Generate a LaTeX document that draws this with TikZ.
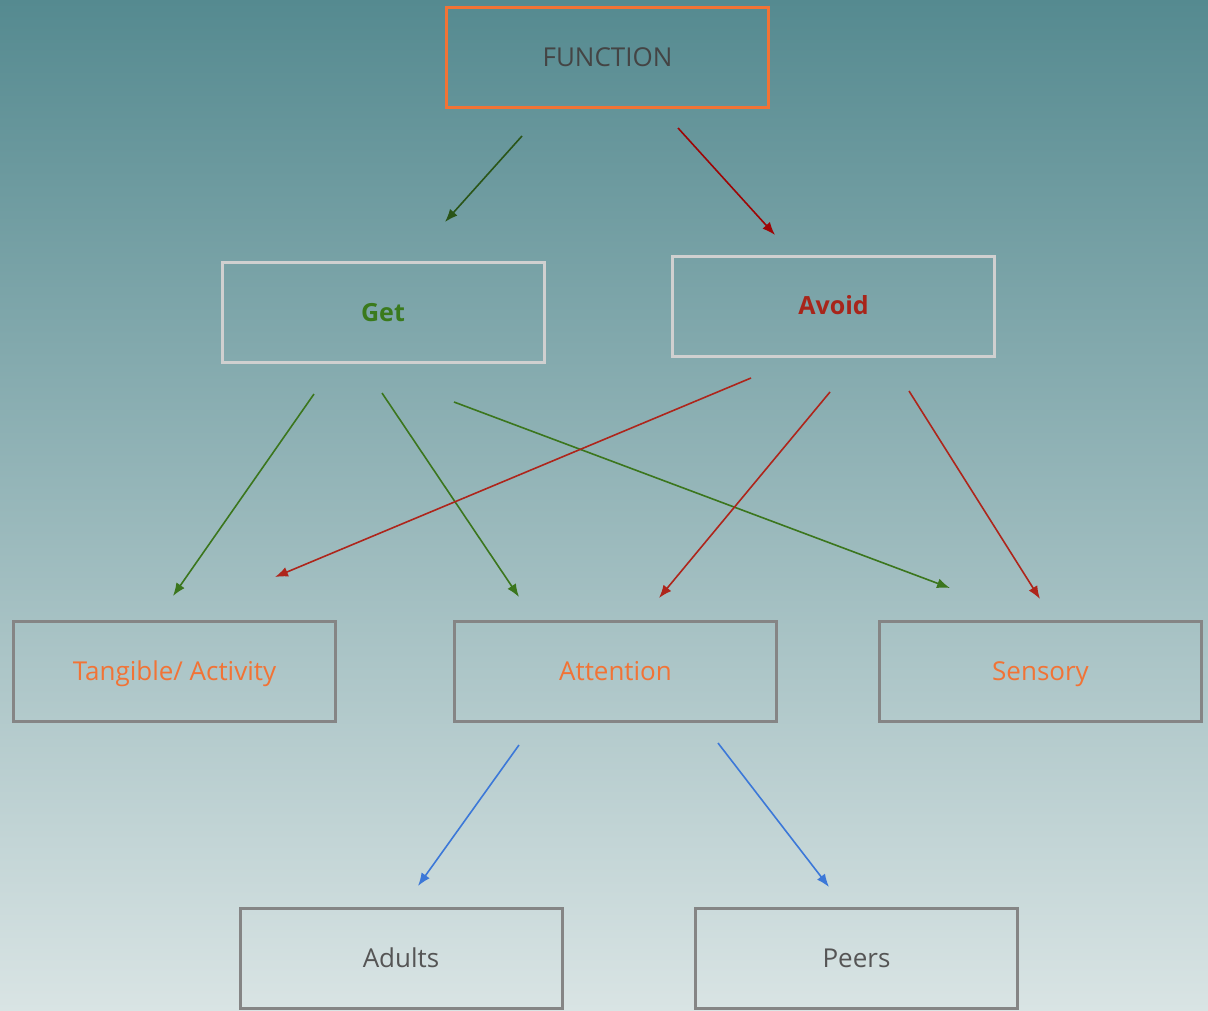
\documentclass[tikz,border=0pt]{standalone}
\usepackage{fontspec}
\setmainfont{Open Sans}
\usetikzlibrary{arrows.meta}
\definecolor{bgtop}{HTML}{558A90}
\definecolor{bgbot}{HTML}{D9E4E4}
\definecolor{orangeC}{HTML}{F27335}
\definecolor{darktext}{HTML}{444444}
\definecolor{graytext}{HTML}{555555}
\definecolor{greenT}{HTML}{3A7A1C}
\definecolor{redT}{HTML}{A8251A}
\definecolor{greenD}{HTML}{2A5518}
\definecolor{redD}{HTML}{9E0505}
\definecolor{greenA}{HTML}{3B761D}
\definecolor{redA}{HTML}{AE251B}
\definecolor{blueA}{HTML}{3C78D8}
\definecolor{lightB}{HTML}{D0D0D0}
\definecolor{grayB}{HTML}{858585}
\begin{document}
\begin{tikzpicture}[x=1pt,y=-1pt,
  box/.style={draw, rectangle, line width=3pt, minimum width=322pt, minimum height=100pt, inner sep=0pt, text height=18.5pt, text depth=0pt, font=\fontsize{26}{31}\selectfont},
  topbox/.style={box, draw=orangeC, text=darktext},
  midbox/.style={box, draw=lightB, text height=17.9pt, font=\fontsize{25}{30}\selectfont\bfseries},
  catbox/.style={box, draw=grayB, text=orangeC},
  subbox/.style={box, draw=grayB, text=graytext},
  arr/.style={line width=1.6pt, -{Latex[length=13pt,width=10pt]}}
]
\shade[top color=bgtop, bottom color=bgbot] (0,0) rectangle (1208,1010);
\useasboundingbox (0,0) rectangle (1208,1010);

\node[topbox] (func) at (607.5,57.5) {FUNCTION};
\node[midbox, text=greenT] (get) at (383,312.5) {Get};
\node[midbox, text=redT] (avoid) at (833.5,306) {Avoid};
\node[catbox] (tang) at (174.5,671.5) {Tangible/ Activity};
\node[catbox] (att) at (615.5,671.5) {Attention};
\node[catbox] (sens) at (1040.5,671.5) {Sensory};
\node[subbox] (adults) at (401,958) {Adults};
\node[subbox] (peers) at (856.5,958) {Peers};

% free arrow endpoints
\coordinate (f1s) at (522,136);  \coordinate (f1e) at (445,222);
\coordinate (f2s) at (678,128);  \coordinate (f2e) at (775,235);
\coordinate (g1s) at (314,394);  \coordinate (g1e) at (173,596);
\coordinate (g2s) at (382,393);  \coordinate (g2e) at (519,597);
\coordinate (g3s) at (454,402);  \coordinate (g3e) at (950,588);
\coordinate (a1s) at (751,378);  \coordinate (a1e) at (275,577);
\coordinate (a2s) at (830,392);  \coordinate (a2e) at (659,598);
\coordinate (a3s) at (909,391);  \coordinate (a3e) at (1040,599);
\coordinate (b1s) at (519,745);  \coordinate (b1e) at (418,886);
\coordinate (b2s) at (718,743);  \coordinate (b2e) at (829,887);

\draw[arr, greenD] (f1s) -- (f1e);
\draw[arr, redD] (f2s) -- (f2e);
\draw[arr, greenA] (g1s) -- (g1e);
\draw[arr, greenA] (g2s) -- (g2e);
\draw[arr, greenA] (g3s) -- (g3e);
\draw[arr, redA] (a1s) -- (a1e);
\draw[arr, redA] (a2s) -- (a2e);
\draw[arr, redA] (a3s) -- (a3e);
\draw[arr, blueA] (b1s) -- (b1e);
\draw[arr, blueA] (b2s) -- (b2e);
\end{tikzpicture}
\end{document}
